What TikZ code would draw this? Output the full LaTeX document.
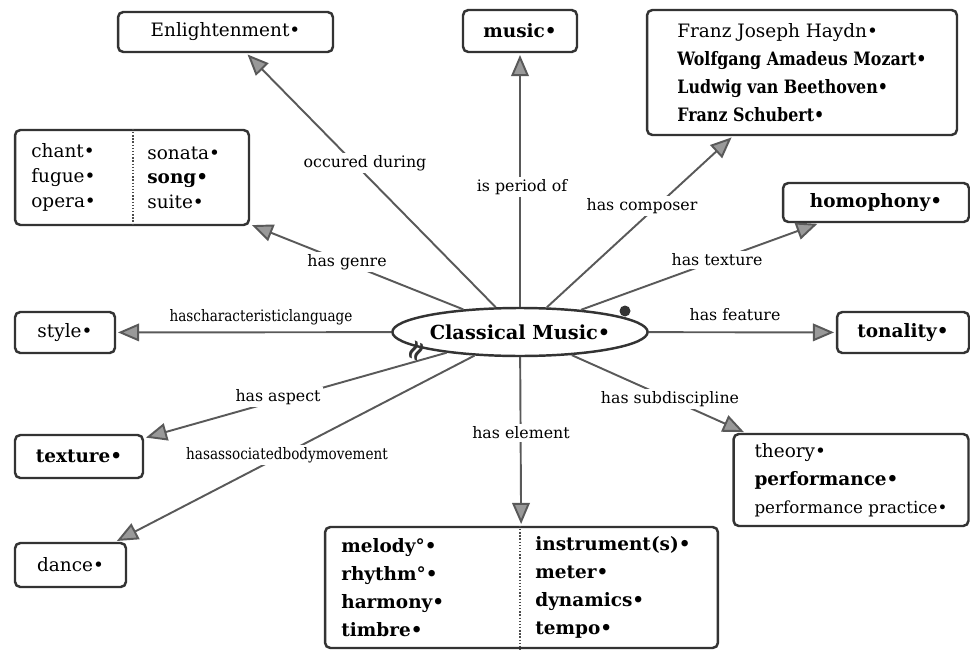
\documentclass[tikz,border=0pt]{standalone}
\usepackage{fontspec}
\setmainfont{DejaVu Serif}
\newfontfamily\narrowserif{DejaVu Serif}[FakeStretch=0.86]
\usepackage{tikz}
\usetikzlibrary{arrows.meta, positioning, shapes.geometric, calc}

\begin{document}
\begin{tikzpicture}[
    x=0.02cm, y=-0.02cm,
    font=\fontsize{10.5}{16}\selectfont,
    concept/.style={draw=black!80, line width=1.4pt, rounded corners=3pt, inner sep=0pt, fill=white, align=left},
    hub/.style={draw=black!80, line width=1.4pt, ellipse, inner sep=0pt, fill=white, minimum width=4.48cm, minimum height=0.96cm, font=\fontsize{11}{13}\selectfont\bfseries},
    items/.style={align=left, inner sep=0pt, anchor=west},
    divider/.style={draw=black!70, line width=0.8pt, densely dotted},
    link/.style={draw=black!65, line width=1.1pt, -{Triangle[length=12pt, width=10pt, fill=black!40]}, shorten >=1pt},
    lbl/.style={fill=white, inner sep=1.5pt, font=\fontsize{9}{10}\selectfont}
]
\useasboundingbox (0,0) rectangle (970,652);

\node[hub] (cm) at (520,332) {Classical Music•};

\node[concept, minimum width=4.3cm, minimum height=0.8cm, align=center] (enl) at (225.5,32) {Enlightenment•};
\node[concept, minimum width=2.28cm, minimum height=0.84cm, align=center] (mus) at (520,31) {\textbf{music•}};
\node[concept, minimum width=6.2cm, minimum height=2.5cm] (comp) at (802,72.5) {Franz Joseph Haydn•\\
    {\narrowserif\bfseries Wolfgang Amadeus Mozart•}\\
    {\narrowserif\bfseries Ludwig van Beethoven•}\\
    {\narrowserif\bfseries Franz Schubert•}};
\node[concept, minimum width=3.72cm, minimum height=0.78cm, align=center] (homo) at (876,202.5) {\textbf{homophony•}};
\node[concept, minimum width=2.64cm, minimum height=0.82cm, align=center] (tona) at (903,332.5) {\textbf{tonality•}};
\node[concept, minimum width=4.7cm, minimum height=1.84cm] (theo) at (851,480) {theory•\\
    \textbf{performance•}\\
    {\fontsize{9.5}{16}\selectfont performance practice•}};
\node[concept, minimum width=2.0cm, minimum height=0.82cm, align=center] (styl) at (65,332.5) {style•};
\node[concept, minimum width=2.56cm, minimum height=0.86cm, align=center] (text) at (79,456.5) {\textbf{texture•}};
\node[concept, minimum width=2.22cm, minimum height=0.88cm, align=center] (danc) at (70.5,565) {dance•};

% two-column boxes
\node[concept, minimum width=4.68cm, minimum height=1.9cm] (genre) at (132,177.5) {};
\coordinate (gdiv) at (133,177.5);
\node[items, font=\fontsize{10.5}{14}\selectfont] (genreL) at (31,177.5) {chant•\\fugue•\\opera•};
\node[items, font=\fontsize{10.5}{14}\selectfont] (genreR) at (147,177.5) {sonata•\\\textbf{song•}\\suite•};
\draw[divider] (genre.north -| gdiv) -- (genre.south -| gdiv);

\node[concept, minimum width=7.86cm, minimum height=2.42cm] (elem) at (521.5,587.5) {};
\coordinate (ediv) at (520,587.5);
\node[items, font=\fontsize{10.5}{16}\selectfont\bfseries] (elemL) at (341,587.5) {melody°•\\rhythm°•\\harmony•\\timbre•};
\node[items, font=\fontsize{10.5}{16}\selectfont\bfseries] (elemR) at (535,587.5) {instrument(s)•\\meter•\\dynamics•\\tempo•};
\draw[divider] (elem.north -| ediv) -- (elem.south -| ediv);

% connectors
\draw[link] (cm) -- (enl);
\draw[link] (cm) -- (mus);
\draw[link] (cm) -- (comp);
\draw[link] (cm) -- (homo);
\draw[link] (cm) -- (tona);
\draw[link] (cm) -- (theo);
\draw[link] (cm) -- (elem);
\draw[link] (cm) -- (danc);
\draw[link] (cm) -- (text);
\draw[link] (cm) -- (styl);
\draw[link] (cm) -- (genre);

\node[circle, fill=black!80, inner sep=0pt, minimum size=0.22cm] (pin) at (625,311) {};
\node[rotate=65, inner sep=0pt, text=black!80, font=\fontsize{16}{16}\selectfont\bfseries] (wave) at (418,352) {≈};

% link labels
\node[lbl] (lOcc) at (365,163) {occured during};
\node[lbl] (lPer) at (522,187) {is period of};
\node[lbl] (lCom) at (642,206) {has composer};
\node[lbl] (lTex) at (717,260) {has texture};
\node[lbl] (lFea) at (735,315) {has feature};
\node[lbl] (lSub) at (670,399) {has subdiscipline};
\node[lbl] (lEle) at (521,433) {has element};
\node[lbl] (lGen) at (347,262) {has genre};
\node[lbl, font=\fontsize{9}{10}\selectfont\narrowserif] (lLan) at (261,317) {hascharacteristiclanguage};
\node[lbl] (lAsp) at (278,397) {has aspect};
\node[lbl, font=\fontsize{9}{10}\selectfont\narrowserif] (lBod) at (287,455) {hasassociatedbodymovement};

\end{tikzpicture}
\end{document}
